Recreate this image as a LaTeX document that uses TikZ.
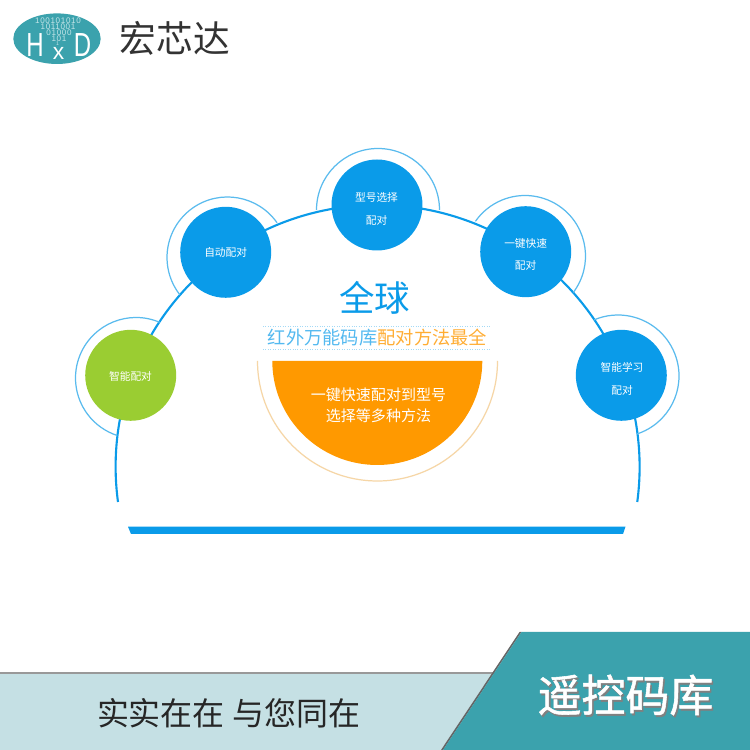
\documentclass[tikz,border=0pt]{standalone}
\usetikzlibrary{shapes.geometric}
\usepackage{fontspec}
\setmainfont{Noto Sans CJK SC}
\newfontfamily\latinf{Liberation Sans}
\newfontfamily\binf[LetterSpace=8]{Liberation Sans}
\newfontfamily\headf[FakeBold=1.2]{Noto Sans CJK SC}
\definecolor{skyb}{HTML}{0A9BE9}
\definecolor{ringb}{HTML}{5ABBEE}
\definecolor{grn}{HTML}{9ACD32}
\definecolor{org}{HTML}{FF9900}
\definecolor{tanl}{HTML}{F6D6A6}
\definecolor{tealb}{HTML}{3BA2AD}
\definecolor{band}{HTML}{C5E0E4}
\definecolor{binc}{HTML}{C4E5E8}
\newcommand{\pxf}[1]{\fontsize{#1}{#1}\selectfont}
\tikzset{
  x=0.02cm,y=0.02cm,
  disc/.style={circle,fill=#1,draw=none,minimum size=1.82cm,inner sep=0pt},
  disctext/.style={inner sep=0pt,outer sep=0pt,text=white,align=center,font=\fontsize{6.1}{12.7}\selectfont},
  ringarc/.style={draw=ringb,line width=0.7pt},
  txt/.style={inner sep=0pt,outer sep=0pt},
  binary/.style={txt,text=binc,font=\binf\fontsize{4.6}{4.6}\selectfont},
  logoletter/.style={txt,text=white,font=\latinf\fontsize{19}{19}\selectfont,xscale=.72},
}
\begin{document}
\begin{tikzpicture}
\useasboundingbox (0,0) rectangle (750,750);
\fill[white] (0,0) rectangle (750,750);
% logo
\node[ellipse,fill=tealb,minimum width=1.748cm,minimum height=1.012cm,inner sep=0pt] (logo) at (57,711.3) {};
\node[binary] (b1) at (58,729.3) {100101010};
\node[binary] (b2) at (58,723.3) {1011001};
\node[binary] (b3) at (59,717.3) {01000};
\node[binary] (b4) at (59,711.5) {101};
\node[binary,font=\latinf\fontsize{3}{3}\selectfont] (b5) at (57.5,706) {1};
\node[logoletter] (lh) at (35,705) {H};
\node[logoletter] (ld) at (82.5,705) {D};
\node[txt,text=white,font=\latinf\fontsize{13}{13}\selectfont] (lx) at (58.5,697) {x};
\node[txt,text=black!80,font=\pxf{20.9}] (brand) at (175,711.5) {宏芯达};
% main arc
\draw[skyb,line width=1.2pt] (118,248) arc[start angle=187.7,end angle=-7.7,radius=262];
% rings
\draw[ringarc] (136,372) ++(67:60.5) arc[start angle=67,end angle=252,radius=60.5];
\draw[ringarc] (227.5,492.5) ++(35:60.5) arc[start angle=35,end angle=218,radius=60.5];
\draw[ringarc] (378,540) ++(0:61.5) arc[start angle=0,end angle=180,radius=61.5];
\draw[ringarc] (525,494) ++(-37:60.5) arc[start angle=-37,end angle=145,radius=60.5];
\draw[ringarc] (618,374) ++(-72:61) arc[start angle=-72,end angle=113,radius=61];
% discs
\node[disc=grn] (smart) at (130.7,374.7) {};
\node[disc=skyb] (auto) at (225.7,497.7) {};
\node[disc=skyb] (model) at (377,545) {};
\node[disc=skyb] (onekey) at (525.7,498.3) {};
\node[disc=skyb] (learn) at (621.3,374.7) {};
\node[disctext] (smartt) at (130.5,373.5) {智能配对};
\node[disctext] (autot) at (225.7,497.7) {自动配对};
\node[disctext] (modelt) at (376.5,541) {型号选择\\配对};
\node[disctext] (onekeyt) at (525.7,495.5) {一键快速\\配对};
\node[disctext] (learnt) at (622,371) {智能学习\\配对};
% centre
\node[txt,text=skyb,font=\pxf{20.2}] (global) at (374.5,452) {全球};
\draw[ringb!55,line width=0.4pt,densely dotted] (263,424) -- (490,424);
\draw[ringb!55,line width=0.4pt,densely dotted] (263,400.7) -- (490,400.7);
\node[txt,font=\pxf{10.4}] (sub) at (377.5,412) {\textcolor{skyb!70}{红外万能码库}\textcolor{org!80}{配对方法最全}};
\draw[tanl,line width=0.7pt] (257.5,389) arc[start angle=180,end angle=360,radius=120];
\fill[org] (272.3,389) arc[start angle=180,end angle=360,x radius=105,y radius=104] -- cycle;
\node[txt,text=white,font=\pxf{8.55}] (l1) at (378.5,355) {一键快速配对到型号};
\node[txt,text=white,font=\pxf{8.55}] (l2) at (378.5,334) {选择等多种方法};
% base bar
\fill[skyb] (128,223.3) -- (625.5,223.3) -- (623,216) -- (131,216) -- cycle;
% footer
\fill[band] (0,0) rectangle (500,76);
\fill[black!40] (0,76) rectangle (500,78);
\fill[black!60] (441,0) -- (519.5,118) -- (521.5,118) -- (443,0) -- cycle;
\fill[tealb] (443,0) -- (521.5,118) -- (750,118) -- (750,0) -- cycle;
\node[txt,text=black!85,font=\pxf{18.2}] (slogan) at (228.5,37) {实实在在 与您同在};
\node[txt,text=black!50,font=\headf\pxf{25}] (titleshade) at (627,53) {遥控码库};
\node[txt,text=white,font=\headf\pxf{25}] (title) at (625.5,55) {遥控码库};
\end{tikzpicture}
\end{document}
